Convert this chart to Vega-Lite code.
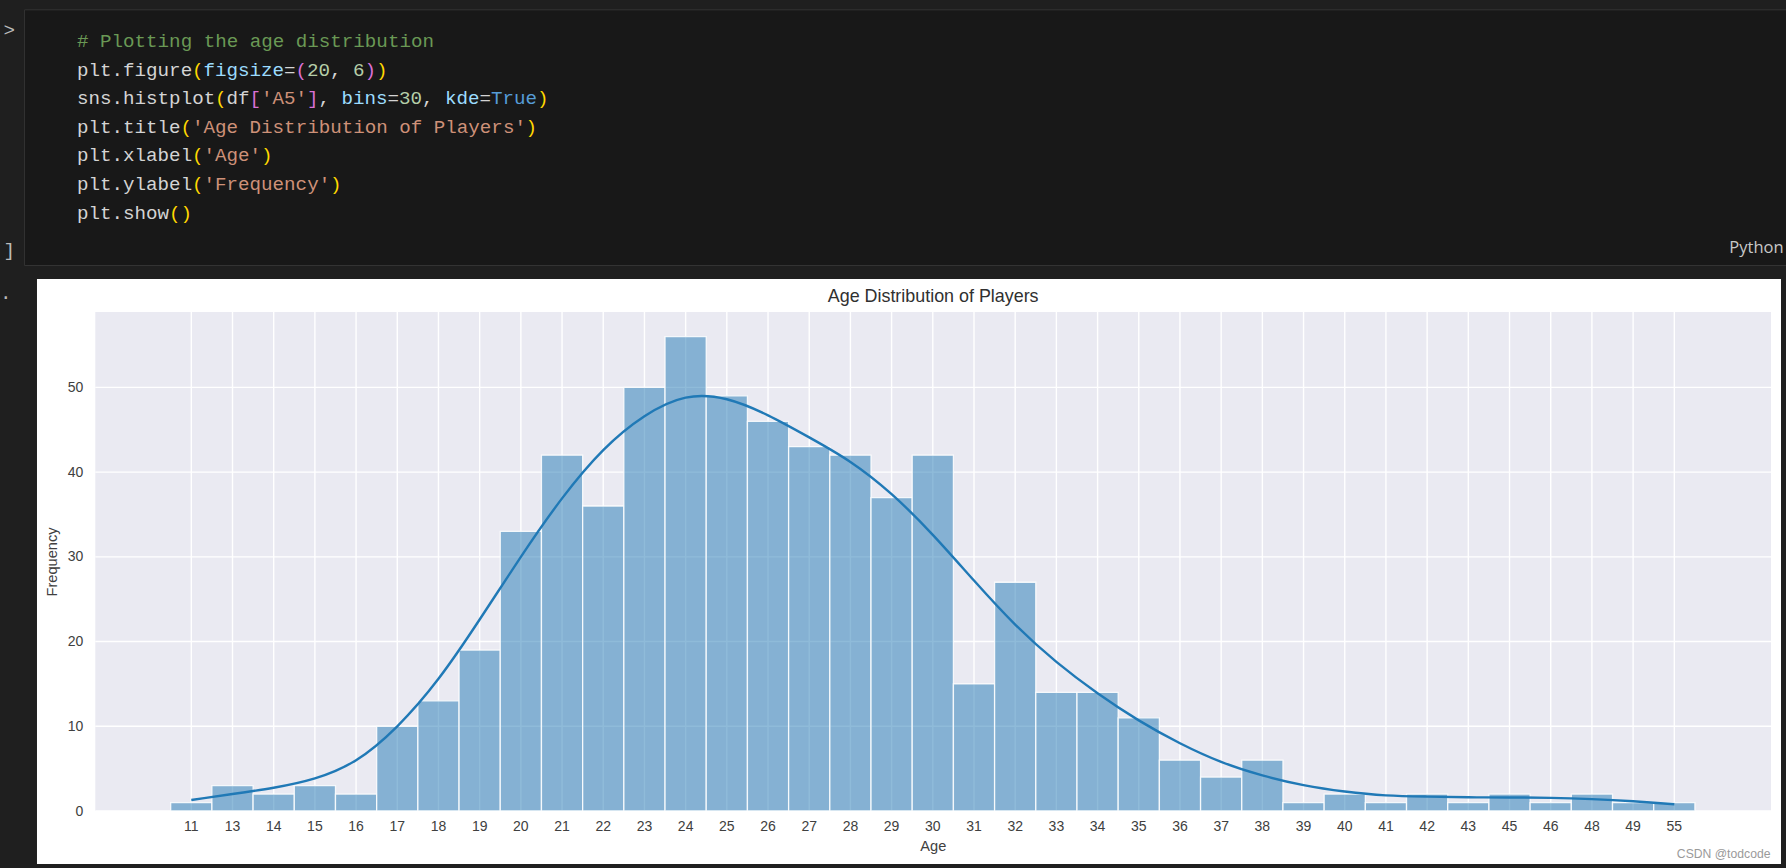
{
  "$schema": "https://vega.github.io/schema/vega-lite/v6.json",
  "background": "#1f1f1f",
  "autosize": {"type": "none"},
  "padding": {"left": 95.3, "top": 312, "right": 15, "bottom": 57},
  "width": 1675.7,
  "height": 499,
  "config": {
    "view": {"stroke": null},
    "axis": {"labelFont": "Liberation Sans", "titleFont": "Liberation Sans", "labelFontSize": 14, "titleFontSize": 14.6, "titleFontWeight": "normal", "labelColor": "#404040", "titleColor": "#404040", "grid": false, "ticks": false, "domain": false}
  },
  "datasets": {
    "ages": [
      {"age": 11, "count": 1, "kde": 1.3},
      {"age": 13, "count": 3, "kde": 2.0},
      {"age": 14, "count": 2, "kde": 2.75},
      {"age": 15, "count": 3, "kde": 3.85},
      {"age": 16, "count": 2, "kde": 6.0},
      {"age": 17, "count": 10, "kde": 10.0},
      {"age": 18, "count": 13, "kde": 15.6},
      {"age": 19, "count": 19, "kde": 22.6},
      {"age": 20, "count": 33, "kde": 30.0},
      {"age": 21, "count": 42, "kde": 36.9},
      {"age": 22, "count": 36, "kde": 42.6},
      {"age": 23, "count": 50, "kde": 46.6},
      {"age": 24, "count": 56, "kde": 48.8},
      {"age": 25, "count": 49, "kde": 48.6},
      {"age": 26, "count": 46, "kde": 46.7},
      {"age": 27, "count": 43, "kde": 44.1},
      {"age": 28, "count": 42, "kde": 41.2},
      {"age": 29, "count": 37, "kde": 37.4},
      {"age": 30, "count": 42, "kde": 32.6},
      {"age": 31, "count": 15, "kde": 27.2},
      {"age": 32, "count": 27, "kde": 22.0},
      {"age": 33, "count": 14, "kde": 17.6},
      {"age": 34, "count": 14, "kde": 13.9},
      {"age": 35, "count": 11, "kde": 10.7},
      {"age": 36, "count": 6, "kde": 8.0},
      {"age": 37, "count": 4, "kde": 5.8},
      {"age": 38, "count": 6, "kde": 4.2},
      {"age": 39, "count": 1, "kde": 3.05},
      {"age": 40, "count": 2, "kde": 2.3},
      {"age": 41, "count": 1, "kde": 1.85},
      {"age": 42, "count": 2, "kde": 1.7},
      {"age": 43, "count": 1, "kde": 1.62},
      {"age": 45, "count": 2, "kde": 1.6},
      {"age": 46, "count": 1, "kde": 1.55},
      {"age": 48, "count": 2, "kde": 1.4},
      {"age": 49, "count": 1, "kde": 1.15},
      {"age": 55, "count": 1, "kde": 0.8}
    ],
    "code": [
      {"line": 0.6, "col": -6.4, "token": ">", "kind": "gutter"},
      {"line": 8.3, "col": -6.4, "token": "]", "kind": "gutter"},
      {"line": 9.8, "col": -6.7, "token": ".", "kind": "gutter"},
      {"line": 1, "col": 0, "token": "# Plotting the age distribution", "kind": "comment"},
      {"line": 2, "col": 0, "token": "plt.figure", "kind": "plain"},
      {"line": 2, "col": 10, "token": "(", "kind": "bracket1"},
      {"line": 2, "col": 11, "token": "figsize", "kind": "param"},
      {"line": 2, "col": 18, "token": "=", "kind": "plain"},
      {"line": 2, "col": 19, "token": "(", "kind": "bracket2"},
      {"line": 2, "col": 20, "token": "20", "kind": "number"},
      {"line": 2, "col": 22, "token": ",", "kind": "plain"},
      {"line": 2, "col": 24, "token": "6", "kind": "number"},
      {"line": 2, "col": 25, "token": ")", "kind": "bracket2"},
      {"line": 2, "col": 26, "token": ")", "kind": "bracket1"},
      {"line": 3, "col": 0, "token": "sns.histplot", "kind": "plain"},
      {"line": 3, "col": 12, "token": "(", "kind": "bracket1"},
      {"line": 3, "col": 13, "token": "df", "kind": "plain"},
      {"line": 3, "col": 15, "token": "[", "kind": "bracket2"},
      {"line": 3, "col": 16, "token": "'A5'", "kind": "string"},
      {"line": 3, "col": 20, "token": "]", "kind": "bracket2"},
      {"line": 3, "col": 21, "token": ",", "kind": "plain"},
      {"line": 3, "col": 23, "token": "bins", "kind": "param"},
      {"line": 3, "col": 27, "token": "=", "kind": "plain"},
      {"line": 3, "col": 28, "token": "30", "kind": "number"},
      {"line": 3, "col": 30, "token": ",", "kind": "plain"},
      {"line": 3, "col": 32, "token": "kde", "kind": "param"},
      {"line": 3, "col": 35, "token": "=", "kind": "plain"},
      {"line": 3, "col": 36, "token": "True", "kind": "keyword"},
      {"line": 3, "col": 40, "token": ")", "kind": "bracket1"},
      {"line": 4, "col": 0, "token": "plt.title", "kind": "plain"},
      {"line": 4, "col": 9, "token": "(", "kind": "bracket1"},
      {"line": 4, "col": 10, "token": "'Age Distribution of Players'", "kind": "string"},
      {"line": 4, "col": 39, "token": ")", "kind": "bracket1"},
      {"line": 5, "col": 0, "token": "plt.xlabel", "kind": "plain"},
      {"line": 5, "col": 10, "token": "(", "kind": "bracket1"},
      {"line": 5, "col": 11, "token": "'Age'", "kind": "string"},
      {"line": 5, "col": 16, "token": ")", "kind": "bracket1"},
      {"line": 6, "col": 0, "token": "plt.ylabel", "kind": "plain"},
      {"line": 6, "col": 10, "token": "(", "kind": "bracket1"},
      {"line": 6, "col": 11, "token": "'Frequency'", "kind": "string"},
      {"line": 6, "col": 22, "token": ")", "kind": "bracket1"},
      {"line": 7, "col": 0, "token": "plt.show", "kind": "plain"},
      {"line": 7, "col": 8, "token": "()", "kind": "bracket1"}
    ]
  },
  "resolve": {"scale": {"x": "independent", "y": "independent"}},
  "layer": [
    {
      "layer": [
        {
          "data": {"values": [{}]},
          "mark": {"type": "rect", "fill": "#181818", "stroke": "#333333", "strokeWidth": 1},
          "encoding": {
            "x": {"datum": -4.56, "type": "quantitative", "axis": null, "scale": {"domain": [0, 100], "range": [-18.3, 1131.7], "nice": false, "zero": false}},
            "x2": {"datum": 160},
            "y": {"datum": -0.09, "type": "quantitative", "axis": null, "scale": {"domain": [1, 7], "range": [-271, -99.4], "nice": false, "zero": false}},
            "y2": {"datum": 8.85}
          }
        },
        {
          "data": {"name": "code"},
          "mark": {"type": "text", "align": "left", "baseline": "middle", "font": "Liberation Mono", "fontSize": 19.2},
          "encoding": {
            "x": {"field": "col", "type": "quantitative", "axis": null, "scale": {"domain": [0, 100], "range": [-18.3, 1131.7], "nice": false, "zero": false}},
            "y": {"field": "line", "type": "quantitative", "axis": null, "scale": {"domain": [1, 7], "range": [-271, -99.4], "nice": false, "zero": false}},
            "text": {"field": "token"},
            "color": {
              "field": "kind",
              "type": "nominal",
              "legend": null,
              "scale": {
                "domain": ["comment", "plain", "param", "number", "string", "keyword", "bracket1", "bracket2", "gutter"],
                "range": ["#6a9955", "#d4d4d4", "#9cdcfe", "#b5cea8", "#ce9178", "#569cd6", "#ffd700", "#da70d6", "#bbbbbb"]
              }
            }
          }
        },
        {
          "data": {"values": [{}]},
          "mark": {"type": "text", "align": "right", "baseline": "middle", "font": "Open Sans", "fontSize": 16.5, "color": "#c8c8c8", "text": "Python"},
          "encoding": {
            "x": {"datum": 148.4, "type": "quantitative", "axis": null, "scale": {"domain": [0, 100], "range": [-18.3, 1131.7], "nice": false, "zero": false}},
            "y": {"datum": 8.25, "type": "quantitative", "axis": null, "scale": {"domain": [1, 7], "range": [-271, -99.4], "nice": false, "zero": false}}
          }
        }
      ]
    },
    {
      "layer": [
        {
          "data": {"values": [{}]},
          "mark": {"type": "rect", "fill": "#ffffff"},
          "encoding": {
            "x": {"datum": -0.0348, "type": "quantitative", "axis": null, "scale": {"domain": [0, 1], "nice": false, "zero": false}},
            "x2": {"datum": 1.00597},
            "y": {"datum": -6.26, "type": "quantitative", "axis": null, "scale": {"domain": [0, 58.9], "nice": false, "zero": false}},
            "y2": {"datum": 62.8}
          }
        },
        {
          "data": {"values": [{}]},
          "mark": {"type": "rect", "fill": "#eaeaf2"},
          "encoding": {
            "x": {"datum": 0, "type": "quantitative", "axis": null, "scale": {"domain": [0, 1], "nice": false, "zero": false}},
            "x2": {"datum": 1},
            "y": {"datum": 0, "type": "quantitative", "axis": null, "scale": {"domain": [0, 58.9], "nice": false, "zero": false}},
            "y2": {"datum": 58.9}
          }
        },
        {
          "data": {"values": [{}]},
          "mark": {"type": "text", "align": "center", "baseline": "middle", "font": "Liberation Sans", "fontSize": 17.9, "color": "#303030", "text": "Age Distribution of Players"},
          "encoding": {
            "x": {"datum": 0.5, "type": "quantitative", "axis": null, "scale": {"domain": [0, 1], "nice": false, "zero": false}},
            "y": {"datum": 60.7, "type": "quantitative", "axis": null, "scale": {"domain": [0, 58.9], "nice": false, "zero": false}}
          }
        },
        {
          "data": {"values": [{}]},
          "mark": {"type": "text", "align": "right", "baseline": "middle", "font": "Liberation Sans", "fontSize": 12.2, "color": "#9a9a9a", "text": "CSDN @todcode"},
          "encoding": {
            "x": {"datum": 0.9997, "type": "quantitative", "axis": null, "scale": {"domain": [0, 1], "nice": false, "zero": false}},
            "y": {"datum": -5.05, "type": "quantitative", "axis": null, "scale": {"domain": [0, 58.9], "nice": false, "zero": false}}
          }
        }
      ]
    },
    {
      "layer": [
        {
          "data": {"values": [{"tick": 0}, {"tick": 10}, {"tick": 20}, {"tick": 30}, {"tick": 40}, {"tick": 50}]},
          "mark": {"type": "rule", "color": "#ffffff", "strokeWidth": 1.4},
          "encoding": {
            "y": {"field": "tick", "type": "quantitative", "title": "Frequency", "scale": {"domain": [0, 58.9], "nice": false, "zero": false}, "axis": {"values": [0, 10, 20, 30, 40, 50], "labelPadding": 12.5, "titlePadding": 8, "zindex": 1}}
          }
        },
        {
          "data": {"name": "ages"},
          "mark": {"type": "rule", "color": "#ffffff", "strokeWidth": 1.4},
          "encoding": {
            "x": {"field": "age", "type": "ordinal", "title": "Age", "scale": {"type": "band", "paddingInner": 0, "paddingOuter": 0, "range": [75.4, 1599.6], "round": false}, "axis": {"labelAngle": 0, "labelOverlap": false, "labelPadding": 8, "titlePadding": 5, "zindex": 1}}
          }
        },
        {
          "data": {"name": "ages"},
          "mark": {"type": "bar", "fill": "#1f77b4", "fillOpacity": 0.5, "stroke": "#ffffff", "strokeOpacity": 0.85, "strokeWidth": 1.3},
          "encoding": {
            "x": {"field": "age", "type": "ordinal", "title": "Age", "scale": {"type": "band", "paddingInner": 0, "paddingOuter": 0, "range": [75.4, 1599.6], "round": false}, "axis": {"labelAngle": 0, "labelOverlap": false, "labelPadding": 8, "titlePadding": 5, "zindex": 1}},
            "y": {"field": "count", "type": "quantitative", "title": "Frequency", "scale": {"domain": [0, 58.9], "nice": false, "zero": false}, "axis": {"values": [0, 10, 20, 30, 40, 50], "labelPadding": 12.5, "titlePadding": 8, "zindex": 1}}
          }
        },
        {
          "data": {"name": "ages"},
          "mark": {"type": "line", "color": "#2079b6", "strokeWidth": 2.4, "interpolate": "natural"},
          "encoding": {
            "x": {"field": "age", "type": "ordinal", "title": "Age", "scale": {"type": "band", "paddingInner": 0, "paddingOuter": 0, "range": [75.4, 1599.6], "round": false}, "axis": {"labelAngle": 0, "labelOverlap": false, "labelPadding": 8, "titlePadding": 5, "zindex": 1}},
            "y": {"field": "kde", "type": "quantitative", "title": "Frequency", "scale": {"domain": [0, 58.9], "nice": false, "zero": false}, "axis": {"values": [0, 10, 20, 30, 40, 50], "labelPadding": 12.5, "titlePadding": 8, "zindex": 1}}
          }
        }
      ]
    }
  ]
}
